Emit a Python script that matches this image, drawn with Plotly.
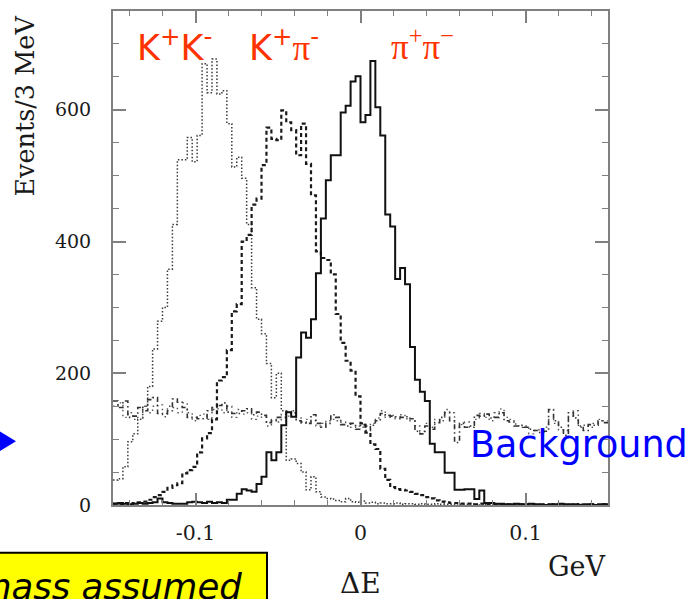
import numpy as np
import plotly.graph_objects as go

# ---- data (events per 3 MeV bin, 100 bins from -0.15 to 0.15 GeV) ----
x_min, x_max = -0.15, 0.15

pipi = [2, 3, 2, 1, 2, 3, 2, 3, 4, 10, 4, 3, 2, 2, 2, 4, 5, 4, 3, 5, 3, 4, 3,
        8, 8, 17, 24, 22, 20, 32, 43, 80, 68, 80, 121, 141, 134, 224, 262, 254,
        282, 352, 435, 493, 531, 531, 596, 606, 643, 651, 581, 592, 674, 604, 561,
        441, 423, 343, 360, 335, 240, 190, 172, 158, 93, 80, 80, 49, 49, 23, 23,
        24, 24, 9, 22, 3, 3, 2, 2, 1,
        1, 2, 1, 1, 2, 1, 1, 0, 1, 1, 2, 1, 1, 1, 0, 1, 1, 0, 1, 1]

kpi = [2, 1, 3, 2, 3, 4, 5, 8, 12, 15, 20, 26, 30, 33, 48, 53, 58, 80, 101, 109,
       130, 189, 194, 235, 294, 305, 400, 410, 456, 465, 516, 573, 556, 554, 599,
       581, 569, 531, 579, 518, 470, 385, 375, 372, 350, 290, 246, 219, 204, 165,
       124, 110, 92, 85, 55, 38, 27, 24, 23, 22, 20, 17, 15, 12, 10, 7, 5, 4,
       3, 3, 2, 2, 2, 1, 2, 1, 1, 1, 0, 1, 1, 0, 1, 0, 1, 1, 0, 0, 1, 0, 1, 0,
       0, 1, 0, 0, 1, 0, 0, 1]

kk = [38, 40, 58, 96, 108, 130, 150, 180, 237, 279, 300, 358, 426, 524, 524, 558,
      521, 561, 670, 626, 677, 624, 629, 579, 513, 528, 496, 426, 330, 282, 260,
      215, 163, 200, 143, 68, 70, 63, 50, 23, 43, 20, 12, 10, 9, 7, 5, 10, 5, 4, 6,
      3, 4, 2, 3, 2, 2, 3, 1, 2, 2, 1, 2, 1, 1, 2, 1, 1, 1, 0, 1, 1, 2, 1, 0, 1,
      1, 0, 1, 0, 1, 1, 0, 1, 0, 0, 1, 0, 1, 0, 0, 1, 0, 0, 1, 0, 1, 0, 0, 1]

bg1 = [158, 148, 158, 133, 135, 148, 143, 160, 163, 139, 139, 143, 161, 156, 148,
       133, 133, 131, 131, 143, 148, 151, 155, 141, 139, 139, 143, 146, 137, 141,
       136, 125, 128, 133, 133, 142, 140, 128, 126, 124, 137, 124, 118, 124, 137,
       133, 122, 120, 124, 115, 122, 113, 121, 128, 139, 136, 135, 134, 133, 134,
       131, 112, 108, 120, 115, 125, 133, 140, 128, 95, 124, 118, 120, 136, 135,
       138, 132, 133, 140, 128, 126, 120, 121, 118, 115, 113, 110, 112, 145, 128,
       118, 106, 140, 132, 120, 113, 122, 121, 128, 125]

bg2 = [150, 155, 133, 140, 130, 133, 150, 140, 150, 152, 134, 150, 148, 140, 155,
       140, 128, 136, 138, 130, 145, 146, 140, 150, 133, 145, 138, 140, 130, 135,
       133, 120, 130, 126, 138, 135, 143, 132, 124, 130, 128, 120, 124, 128, 130,
       128, 126, 124, 118, 120, 118, 120, 124, 132, 143, 133, 136, 131, 137, 131,
       128, 120, 112, 124, 118, 130, 128, 145, 140, 118, 122, 126, 118, 130, 139,
       133, 128, 140, 146, 133, 130, 123, 118, 120, 108, 113, 114, 118, 130, 124,
       114, 113, 135, 143, 118, 121, 118, 124, 130, 128]

x_tickvals = [-0.1, 0, 0.1]
x_ticktext = ["-0.1", "0", "0.1"]
y_tickvals = [0, 200, 400, 600]
y_ticktext = ["0", "200", "400", "600"]

# ---- figure ----
W, H = 692, 599
L, R, T, B = 113, 608, 9, 505


def px_x(p):
    return (p - L) / (R - L)


def px_y(p):
    return (B - p) / (B - T)


def step(vals):
    n = len(vals)
    edges = np.linspace(x_min, x_max, n + 1)
    return edges, list(vals) + [vals[-1]]


fig = go.Figure()

series = [
    (bg2, dict(color="#555555", width=1.4, dash="1.5px,3.5px")),
    (bg1, dict(color="#333333", width=1.6, dash="5px,3px,1.5px,3px")),
    (kk, dict(color="#3a3a3a", width=1.5, dash="1.5px,2px")),
    (kpi, dict(color="#1a1a1a", width=2.2, dash="4px,3px")),
    (pipi, dict(color="#111111", width=2.0)),
]
for vals, line in series:
    xs, ys = step(vals)
    fig.add_trace(go.Scatter(x=xs, y=ys, mode="lines", line_shape="hv",
                             line=line, hoverinfo="skip"))

axis_common = dict(showline=True, linecolor="#808080", linewidth=2,
                   mirror="ticks", ticks="inside", tickcolor="#808080",
                   tickwidth=1.5, showgrid=False, zeroline=False)

fig.update_xaxes(range=[x_min, x_max], tickmode="array", tickvals=x_tickvals,
                 ticktext=x_ticktext, ticklen=12,
                 tickfont=dict(family="DejaVu Serif", size=20.5, color="#1a1a1a"),
                 minor=dict(dtick=0.02, tick0=0, ticks="inside", ticklen=5,
                            tickcolor="#808080", tickwidth=1.2),
                 ticklabelstandoff=8,
                 **axis_common)
fig.update_yaxes(range=[0, 750], tickmode="array", tickvals=y_tickvals,
                 ticktext=y_ticktext, ticklen=13,
                 tickfont=dict(family="DejaVu Serif", size=19, color="#1a1a1a"),
                 minor=dict(dtick=50, tick0=0, ticks="inside", ticklen=6,
                            tickcolor="#808080", tickwidth=1.2),
                 ticklabelstandoff=16,
                 **axis_common)

red = "#FF3300"
ann = [
    dict(text="Events/3 MeV", x=px_x(25), y=px_y(105), textangle=-90,
         font=dict(family="DejaVu Serif", size=25.5, color="#1a1a1a")),
    dict(text="GeV", x=px_x(577), y=px_y(567),
         font=dict(family="DejaVu Serif", size=27, color="#1a1a1a")),
    dict(text="ΔE", x=px_x(360), y=px_y(584),
         font=dict(family="DejaVu Serif", size=28, color="#1a1a1a")),
    dict(text="K<sup>+</sup>K<sup>-</sup>", x=px_x(174), y=px_y(43),
         font=dict(family="DejaVu Sans", size=35, color=red)),
    dict(text="K<sup>+</sup><span style='font-family:Liberation Serif'>π</span><sup>-</sup>",
         x=px_x(284), y=px_y(43),
         font=dict(family="DejaVu Sans", size=35, color=red)),
    dict(text="π<sup>+</sup>π<sup>−</sup>", x=px_x(422), y=px_y(43),
         font=dict(family="Liberation Serif", size=35, color=red)),
    dict(text="Background", x=px_x(579), y=px_y(444),
         font=dict(family="DejaVu Sans", size=36.5, color="#0000FF")),
    dict(text="<i>mass assumed</i>", x=px_x(244), y=px_y(587), xanchor="right",
         font=dict(family="DejaVu Sans", size=35.5, color="#000")),
]
for a in ann:
    a.setdefault("xanchor", "center")
    a.setdefault("yanchor", "middle")
    fig.add_annotation(xref="paper", yref="paper", showarrow=False, **a)

fig.add_shape(type="rect", xref="paper", yref="paper",
              x0=px_x(-5), x1=px_x(267), y0=px_y(615), y1=px_y(553),
              fillcolor="#FFFF00", line=dict(color="#000", width=2), layer="below")
fig.add_shape(type="path", xref="paper", yref="paper",
              path=f"M {px_x(-2)},{px_y(430)} L {px_x(16)},{px_y(441)} L {px_x(-2)},{px_y(452)} Z",
              fillcolor="#0000FF", line=dict(color="#0000FF", width=0))

fig.update_layout(width=W, height=H, margin=dict(l=L, r=W - R, t=T, b=H - B),
                  plot_bgcolor="white", paper_bgcolor="white", showlegend=False)

fig.write_html("out.html")
